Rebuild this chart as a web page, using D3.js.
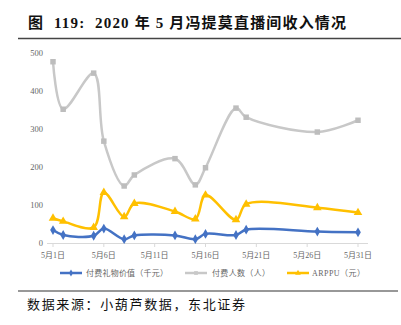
<!DOCTYPE html>
<html><head><meta charset="utf-8">
<script src="https://cdn.jsdelivr.net/npm/d3@7"></script>
<style>body{margin:0;background:#fff}svg{display:block}</style>
</head><body>
<svg id="c" width="401" height="325"></svg>
<script>
const days = [1,2,5,6,8,9,13,15,16,19,20,27,31];
const giftValue = [34,21,19,38,10,20,20,10,24,21,35,30,28];
const payers = [477,352,447,268,150,179,222,153,198,355,331,292,323];
const arppu = [65,57,41,133,69,104,83,63,126,61,102,93,80];
const xTickDays = [1,6,11,16,21,26,31];
const xTickLabels = ["5月1日","5月6日","5月11日","5月16日","5月21日","5月26日","5月31日"];
const yTicks = [0,100,200,300,400,500];
const seriesNames = ["付费礼物价值（千元）","付费人数（人）","ARPPU（元）"];
const title = "图  119:  2020 年 5 月冯提莫直播间收入情况";
const source = "数据来源：小葫芦数据，东北证券";

const svg = d3.select("#c");
const x = d3.scaleLinear().domain([1,31]).range([53,358]);
const y = d3.scaleLinear().domain([0,500]).range([243,53]);

// title
svg.append("text").attr("x",28).attr("y",28)
  .attr("font-family","'Liberation Serif','Noto Sans CJK SC',serif").attr("font-weight","bold")
  .attr("font-size",15).attr("fill","#111").attr("xml:space","preserve")
  .attr("textLength",318).attr("lengthAdjust","spacing").text(title);
svg.append("line").attr("x1",18).attr("x2",401).attr("y1",38.5).attr("y2",38.5).attr("stroke","#444").attr("stroke-width",1.5);

// y labels
svg.selectAll(".yl").data(yTicks).enter().append("text")
  .attr("x",43).attr("y",d=>y(d)+3).attr("text-anchor","end")
  .attr("font-family","'Liberation Serif',serif").attr("font-size",8.5).attr("fill","#666").text(d=>d);

// x axis
svg.append("line").attr("x1",47).attr("x2",368).attr("y1",243.5).attr("y2",243.5).attr("stroke","#d9d9d9").attr("stroke-width",1);
svg.selectAll(".xt").data(xTickDays).enter().append("line")
  .attr("x1",d=>x(d)).attr("x2",d=>x(d)).attr("y1",243.5).attr("y2",247).attr("stroke","#d9d9d9");
svg.selectAll(".xl").data(xTickDays).enter().append("text")
  .attr("x",d=>x(d)).attr("y",258).attr("text-anchor","middle")
  .attr("font-family","'Liberation Serif','Noto Sans CJK SC',serif").attr("font-size",8).attr("fill","#666")
  .text((d,i)=>xTickLabels[i]);

const line = d3.line().x(d=>x(d[0])).y(d=>y(d[1])).curve(d3.curveCatmullRom.alpha(0.5));
const series = [
  {vals:payers,color:"#c8c8c8",mcolor:"#bdbdbd",marker:d3.symbolSquare,size:30},
  {vals:arppu,color:"#ffc000",mcolor:"#ffc000",marker:d3.symbolTriangle,size:32},
  {vals:giftValue,color:"#4472c4",mcolor:"#4472c4",marker:d3.symbolDiamond,size:28}
];
series.forEach(s=>{
  const pts = days.map((d,i)=>[d,s.vals[i]]);
  svg.append("path").attr("d",line(pts)).attr("fill","none").attr("stroke",s.color).attr("stroke-width",2.5);
  svg.selectAll(null).data(pts).enter().append("path")
    .attr("d",d3.symbol().type(s.marker).size(s.size))
    .attr("transform",d=>`translate(${x(d[0])},${y(d[1])})`).attr("fill",s.mcolor);
});

// legend
const leg = [
  {x:60,tx:86,tw:82,color:"#4472c4",marker:d3.symbolDiamond,name:seriesNames[0]},
  {x:185,tx:212,tw:58,color:"#c8c8c8",marker:d3.symbolSquare,name:seriesNames[1]},
  {x:287,tx:312,tw:53,color:"#ffc000",marker:d3.symbolTriangle,name:seriesNames[2]}
];
leg.forEach(l=>{
  svg.append("line").attr("x1",l.x).attr("x2",l.x+22).attr("y1",273).attr("y2",273).attr("stroke",l.color).attr("stroke-width",2.5);
  svg.append("path").attr("d",d3.symbol().type(l.marker).size(14)).attr("transform",`translate(${l.x+11},273)`).attr("fill",l.color);
  svg.append("text").attr("x",l.tx).attr("y",276).attr("font-family","'Liberation Serif','Noto Sans CJK SC',serif")
    .attr("font-size",8).attr("fill","#666").attr("textLength",l.tw).attr("lengthAdjust","spacing").text(l.name);
});

svg.append("line").attr("x1",18).attr("x2",398).attr("y1",291).attr("y2",291).attr("stroke","#333").attr("stroke-width",1.2);
svg.append("text").attr("x",27).attr("y",309).attr("font-family","'Noto Sans CJK SC',sans-serif")
  .attr("font-size",13).attr("fill","#111").attr("textLength",218).attr("lengthAdjust","spacing").text(source);
</script>
</body></html>
